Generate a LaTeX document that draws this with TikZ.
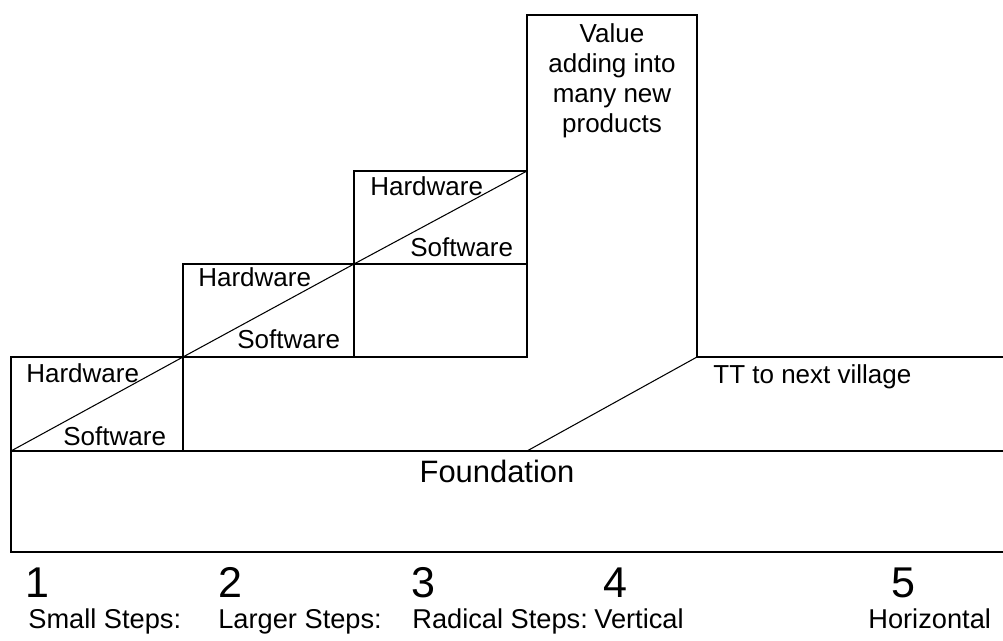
\documentclass[tikz,border=0pt]{standalone}
\usepackage{fontspec}
\setmainfont{Liberation Sans}
\tikzset{
  wall/.style={draw=black, line width=1.3pt, line join=miter},
  split/.style={draw=black, line width=0.6pt},
  boxtext/.style={font=\fontsize{14.8}{17.1}\selectfont, inner sep=0pt, anchor=base west},
  basetext/.style={font=\fontsize{17.6}{20}\selectfont, inner sep=0pt, anchor=base},
  stepnum/.style={font=\fontsize{24.5}{28}\selectfont, inner sep=0pt, anchor=base},
  steplabel/.style={font=\fontsize{15.5}{18}\selectfont, inner sep=0pt, anchor=base west},
}
\begin{document}
\begin{tikzpicture}[x=0.02cm,y=-0.02cm]
\useasboundingbox (0,0) rectangle (1003,641);

% corners of the steps
\coordinate (f1) at (11,451);
\coordinate (f2) at (11,552);
\coordinate (s1) at (11,357);
\coordinate (s2) at (183,357);
\coordinate (s3) at (183,264);
\coordinate (s4) at (354,264);
\coordinate (s5) at (354,171);
\coordinate (s6) at (527,171);
\coordinate (v1) at (527,15);
\coordinate (v2) at (697,15);
\coordinate (v3) at (697,357);
\coordinate (t1) at (527,451);
\coordinate (e1) at (1003,357);
\coordinate (e2) at (1003,451);
\coordinate (e3) at (1003,552);

% foundation
\draw[wall] (e2) -- (f1) -- (f2) -- (e3);

% step 1
\draw[wall] (f1) -- (s1) -- (s2) -- (s2 |- f1);
\draw[split] (f1) -- (s2);
\node[boxtext] (hw1) at (26,382) {Hardware};
\node[boxtext] (sw1) at (63,445) {Software};

% step 2
\draw[wall] (s2) -- (s3) -- (s4) -- (s4 |- s2) -- (s2);
\draw[split] (s2) -- (s4);
\node[boxtext] (hw2) at (198,287) {Hardware};
\node[boxtext] (sw2) at (237,349) {Software};

% step 3
\draw[wall] (s4 |- s2) -- (s5) -- (s6) -- (s6 |- s2) -- (s4 |- s2);
\draw[wall] (s4) -- (s6 |- s4);
\draw[split] (s4) -- (s6);
\node[boxtext] (hw3) at (370,196) {Hardware};
\node[boxtext] (sw3) at (410,257) {Software};

% step 4: vertical
\draw[wall] (s6) -- (v1) -- (v2) -- (v3) -- (e1);
\node[boxtext,anchor=north,align=center] (value) at (612,23)
  {Value\\adding into\\many new\\products};

% step 5: horizontal
\draw[split] (t1) -- (v3);
\node[boxtext] (tt) at (713,383) {TT to next village};

\node[basetext] (found) at (497,482) {Foundation};

% numbering
\node[stepnum] (n1) at (37,597) {1};
\node[stepnum] (n2) at (230,597) {2};
\node[stepnum] (n3) at (423,597) {3};
\node[stepnum] (n4) at (615,597) {4};
\node[stepnum] (n5) at (903,597) {5};
\node[steplabel] (l1) at (28,628) {Small Steps:};
\node[steplabel] (l2) at (218,628) {Larger Steps:};
\node[steplabel] (l3) at (412,628) {Radical Steps:};
\node[steplabel] (l4) at (594,628) {Vertical};
\node[steplabel] (l5) at (868,628) {Horizontal};

\end{tikzpicture}
\end{document}
